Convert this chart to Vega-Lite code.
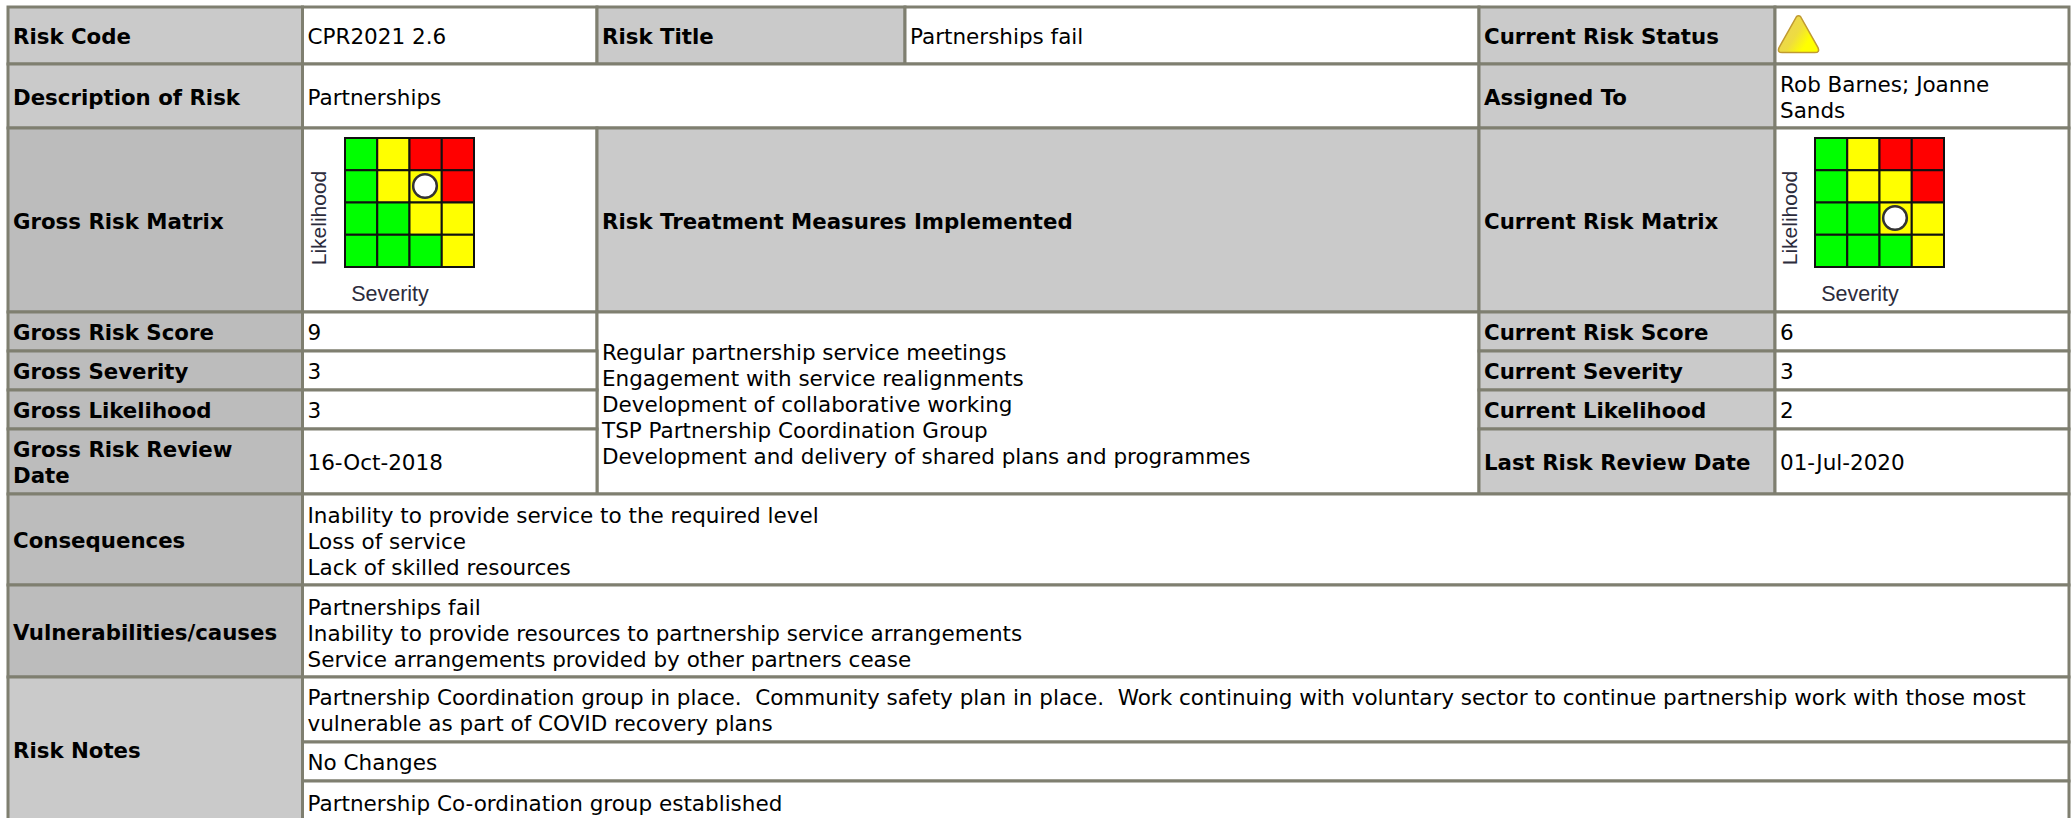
{"$schema":"https://vega.github.io/schema/vega-lite/v6.json","width":2071,"height":818,"autosize":{"type":"fit","contains":"padding"},"padding":0,"background":"white","config":{"view":{"stroke":null}},"datasets":{"cells":[
{"c0":0,"c1":1,"r0":0,"r1":1,"rm":0.5,"kind":"light","bold":true,"text":"Risk Code"},
{"c0":1,"c1":2,"r0":0,"r1":1,"rm":0.5,"kind":"value","bold":false,"text":"CPR2021 2.6"},
{"c0":2,"c1":3,"r0":0,"r1":1,"rm":0.5,"kind":"light","bold":true,"text":"Risk Title"},
{"c0":3,"c1":4,"r0":0,"r1":1,"rm":0.5,"kind":"value","bold":false,"text":"Partnerships fail"},
{"c0":4,"c1":5,"r0":0,"r1":1,"rm":0.5,"kind":"light","bold":true,"text":"Current Risk Status"},
{"c0":5,"c1":6,"r0":0,"r1":1,"rm":0.5,"kind":"value","bold":false,"text":""},
{"c0":0,"c1":1,"r0":1,"r1":2,"rm":1.5,"kind":"light","bold":true,"text":"Description of Risk"},
{"c0":1,"c1":4,"r0":1,"r1":2,"rm":1.5,"kind":"value","bold":false,"text":"Partnerships"},
{"c0":4,"c1":5,"r0":1,"r1":2,"rm":1.5,"kind":"light","bold":true,"text":"Assigned To"},
{"c0":5,"c1":6,"r0":1,"r1":2,"rm":1.31,"kind":"value","bold":false,"text":"Rob Barnes; Joanne\nSands"},
{"c0":0,"c1":1,"r0":2,"r1":3,"rm":2.5,"kind":"dark","bold":true,"text":"Gross Risk Matrix"},
{"c0":1,"c1":2,"r0":2,"r1":3,"rm":2.5,"kind":"value","bold":false,"text":""},
{"c0":2,"c1":4,"r0":2,"r1":3,"rm":2.5,"kind":"light","bold":true,"text":"Risk Treatment Measures Implemented"},
{"c0":4,"c1":5,"r0":2,"r1":3,"rm":2.5,"kind":"light","bold":true,"text":"Current Risk Matrix"},
{"c0":5,"c1":6,"r0":2,"r1":3,"rm":2.5,"kind":"value","bold":false,"text":""},
{"c0":0,"c1":1,"r0":3,"r1":4,"rm":3.5,"kind":"dark","bold":true,"text":"Gross Risk Score"},
{"c0":1,"c1":2,"r0":3,"r1":4,"rm":3.5,"kind":"value","bold":false,"text":"9"},
{"c0":2,"c1":4,"r0":3,"r1":7,"rm":4.0,"kind":"value","bold":false,"text":"Regular partnership service meetings\nEngagement with service realignments\nDevelopment of collaborative working\nTSP Partnership Coordination Group\nDevelopment and delivery of shared plans and programmes"},
{"c0":4,"c1":5,"r0":3,"r1":4,"rm":3.5,"kind":"light","bold":true,"text":"Current Risk Score"},
{"c0":5,"c1":6,"r0":3,"r1":4,"rm":3.5,"kind":"value","bold":false,"text":"6"},
{"c0":0,"c1":1,"r0":4,"r1":5,"rm":4.5,"kind":"dark","bold":true,"text":"Gross Severity"},
{"c0":1,"c1":2,"r0":4,"r1":5,"rm":4.5,"kind":"value","bold":false,"text":"3"},
{"c0":4,"c1":5,"r0":4,"r1":5,"rm":4.5,"kind":"light","bold":true,"text":"Current Severity"},
{"c0":5,"c1":6,"r0":4,"r1":5,"rm":4.5,"kind":"value","bold":false,"text":"3"},
{"c0":0,"c1":1,"r0":5,"r1":6,"rm":5.5,"kind":"dark","bold":true,"text":"Gross Likelihood"},
{"c0":1,"c1":2,"r0":5,"r1":6,"rm":5.5,"kind":"value","bold":false,"text":"3"},
{"c0":4,"c1":5,"r0":5,"r1":6,"rm":5.5,"kind":"light","bold":true,"text":"Current Likelihood"},
{"c0":5,"c1":6,"r0":5,"r1":6,"rm":5.5,"kind":"value","bold":false,"text":"2"},
{"c0":0,"c1":1,"r0":6,"r1":7,"rm":6.3,"kind":"dark","bold":true,"text":"Gross Risk Review\nDate"},
{"c0":1,"c1":2,"r0":6,"r1":7,"rm":6.5,"kind":"value","bold":false,"text":"16-Oct-2018"},
{"c0":4,"c1":5,"r0":6,"r1":7,"rm":6.5,"kind":"light","bold":true,"text":"Last Risk Review Date"},
{"c0":5,"c1":6,"r0":6,"r1":7,"rm":6.5,"kind":"value","bold":false,"text":"01-Jul-2020"},
{"c0":0,"c1":1,"r0":7,"r1":8,"rm":7.5,"kind":"dark","bold":true,"text":"Consequences"},
{"c0":1,"c1":6,"r0":7,"r1":8,"rm":7.23,"kind":"value","bold":false,"text":"Inability to provide service to the required level\nLoss of service\nLack of skilled resources"},
{"c0":0,"c1":1,"r0":8,"r1":9,"rm":8.5,"kind":"dark","bold":true,"text":"Vulnerabilities/causes"},
{"c0":1,"c1":6,"r0":8,"r1":9,"rm":8.23,"kind":"value","bold":false,"text":"Partnerships fail\nInability to provide resources to partnership service arrangements\nService arrangements provided by other partners cease"},
{"c0":0,"c1":1,"r0":9,"r1":12,"rm":10.18,"kind":"light","bold":true,"text":"Risk Notes"},
{"c0":1,"c1":6,"r0":9,"r1":10,"rm":9.3,"kind":"value","bold":false,"text":"Partnership Coordination group in place.\u00a0 Community safety plan in place.\u00a0 Work continuing with voluntary sector to continue partnership work with those most\nvulnerable as part of COVID recovery plans"},
{"c0":1,"c1":6,"r0":10,"r1":11,"rm":10.5,"kind":"value","bold":false,"text":"No Changes"},
{"c0":1,"c1":6,"r0":11,"r1":12,"rm":11.43,"kind":"value","bold":false,"text":"Partnership Co-ordination group established"}
],"matrix":[
{"sev":1,"lik":4,"band":"green"},{"sev":2,"lik":4,"band":"yellow"},{"sev":3,"lik":4,"band":"red"},{"sev":4,"lik":4,"band":"red"},
{"sev":1,"lik":3,"band":"green"},{"sev":2,"lik":3,"band":"yellow"},{"sev":3,"lik":3,"band":"yellow"},{"sev":4,"lik":3,"band":"red"},
{"sev":1,"lik":2,"band":"green"},{"sev":2,"lik":2,"band":"green"},{"sev":3,"lik":2,"band":"yellow"},{"sev":4,"lik":2,"band":"yellow"},
{"sev":1,"lik":1,"band":"green"},{"sev":2,"lik":1,"band":"green"},{"sev":3,"lik":1,"band":"green"},{"sev":4,"lik":1,"band":"yellow"}
]},
"resolve":{"scale":{"x":"independent","y":"independent","fill":"independent"}},
"layer":[
{"data":{"name":"cells"},"layer":[
{"mark":{"type":"rect","clip":true,"stroke":"#7f7f70","strokeWidth":3},
"encoding":{"x":{"field":"c0","type":"quantitative","axis":null,"scale":{"domain":[0,1,2,3,4,5,6],"range":[8,302.5,597,905,1479,1775,2069]}},"x2":{"field":"c1"},
"y":{"field":"r0","type":"quantitative","axis":null,"scale":{"domain":[0,1,2,3,4,5,6,7,8,9,10,11,12],"range":[7,64,128,312,351,390,429,494,585,677,742,781,830]}},"y2":{"field":"r1"},
"fill":{"field":"kind","type":"nominal","legend":null,"scale":{"domain":["light","dark","value"],"range":["#cacaca","#bcbcbc","#ffffff"]}}}},
{"transform":[{"filter":"datum.bold"}],"mark":{"type":"text","align":"left","baseline":"middle","dx":5,"dy":2.5,"font":"DejaVu Sans","fontSize":21.3,"fontWeight":"bold","lineBreak":"\n","lineHeight":26,"color":"#000"},
"encoding":{"x":{"field":"c0","type":"quantitative"},"y":{"field":"rm","type":"quantitative"},"text":{"field":"text"}}},
{"transform":[{"filter":"!datum.bold"}],"mark":{"type":"text","align":"left","baseline":"middle","dx":5,"dy":2.5,"font":"DejaVu Sans","fontSize":21.5,"lineBreak":"\n","lineHeight":26,"color":"#000"},
"encoding":{"x":{"field":"c0","type":"quantitative"},"y":{"field":"rm","type":"quantitative"},"text":{"field":"text"}}}
]},
{"data":{"name":"matrix"},"mark":{"type":"rect","stroke":"#111","strokeWidth":2},
"encoding":{"x":{"field":"sev","type":"ordinal","axis":null,"scale":{"domain":[1,2,3,4],"range":[345,474],"paddingInner":0,"paddingOuter":0}},"y":{"field":"lik","type":"ordinal","axis":null,"scale":{"domain":[4,3,2,1],"range":[138,267],"paddingInner":0,"paddingOuter":0}},
"fill":{"field":"band","type":"nominal","legend":null,"scale":{"domain":["green","yellow","red"],"range":["#00ff00","#ffff00","#ff0000"]}}}},
{"data":{"name":"matrix"},"mark":{"type":"rect","stroke":"#111","strokeWidth":2},
"encoding":{"x":{"field":"sev","type":"ordinal","axis":null,"scale":{"domain":[1,2,3,4],"range":[1815,1944],"paddingInner":0,"paddingOuter":0}},"y":{"field":"lik","type":"ordinal","axis":null,"scale":{"domain":[4,3,2,1],"range":[138,267],"paddingInner":0,"paddingOuter":0}},
"fill":{"field":"band","type":"nominal","legend":null,"scale":{"domain":["green","yellow","red"],"range":["#00ff00","#ffff00","#ff0000"]}}}},
{"data":{"values":[{"matrix":"Gross","sev":3,"lik":3},{"matrix":"Current","sev":3,"lik":2}]},
"mark":{"type":"point","filled":true,"fill":"white","stroke":"#333","strokeWidth":2.5,"opacity":1,"size":560},
"encoding":{"x":{"field":"pos","type":"quantitative","axis":null,"scale":{"domain":[0,1],"range":[425,1895]}},"y":{"field":"lik","type":"quantitative","axis":null,"scale":{"domain":[1,4],"range":[250,154]}}},
"transform":[{"lookup":"matrix","from":{"data":{"values":[{"matrix":"Gross","pos":0},{"matrix":"Current","pos":1}]},"key":"matrix","fields":["pos"]}}]},
{"data":{"values":[{"label":"Likelihood","cell":0},{"label":"Likelihood","cell":1}]},
"mark":{"type":"text","angle":270,"align":"center","baseline":"middle","font":"Liberation Sans","fontSize":21,"color":"#2c2c3c"},
"encoding":{"x":{"field":"cell","type":"quantitative","axis":null,"scale":{"domain":[0,1],"range":[320,1791]}},"y":{"datum":0,"type":"quantitative","axis":null,"scale":{"domain":[0,1],"range":[218,219]}},"text":{"field":"label"}}},
{"data":{"values":[{"label":"Severity","cell":0},{"label":"Severity","cell":1}]},
"mark":{"type":"text","align":"center","baseline":"middle","font":"Liberation Sans","fontSize":21.5,"color":"#2c2c3c"},
"encoding":{"x":{"field":"cell","type":"quantitative","axis":null,"scale":{"domain":[0,1],"range":[390,1860]}},"y":{"datum":0,"type":"quantitative","axis":null,"scale":{"domain":[0,1],"range":[295,296]}},"text":{"field":"label"}}},
{"data":{"values":[{"status":"Amber","c":5.08,"r":0.479}]},
"mark":{"type":"point","filled":true,"opacity":1,"size":1681,"shape":"M -0.1,-0.86 Q 0,-0.95 0.1,-0.86 L 0.95,0.65 Q 1.05,0.89 0.8,0.89 L -0.8,0.89 Q -1.05,0.89 -0.95,0.65 Z","fill":{"gradient":"linear","x1":0,"y1":0,"x2":1,"y2":0.6,"stops":[{"offset":0,"color":"#e8d060"},{"offset":0.55,"color":"#eedc40"},{"offset":0.85,"color":"#ffff00"},{"offset":1,"color":"#ffff00"}]},"stroke":"#c09a30","strokeWidth":1.5},
"encoding":{"x":{"field":"c","type":"quantitative","axis":null,"scale":{"domain":[5,6],"range":[1775,2069]}},"y":{"field":"r","type":"quantitative","axis":null,"scale":{"domain":[0,1],"range":[7,64]}}}}
]}
